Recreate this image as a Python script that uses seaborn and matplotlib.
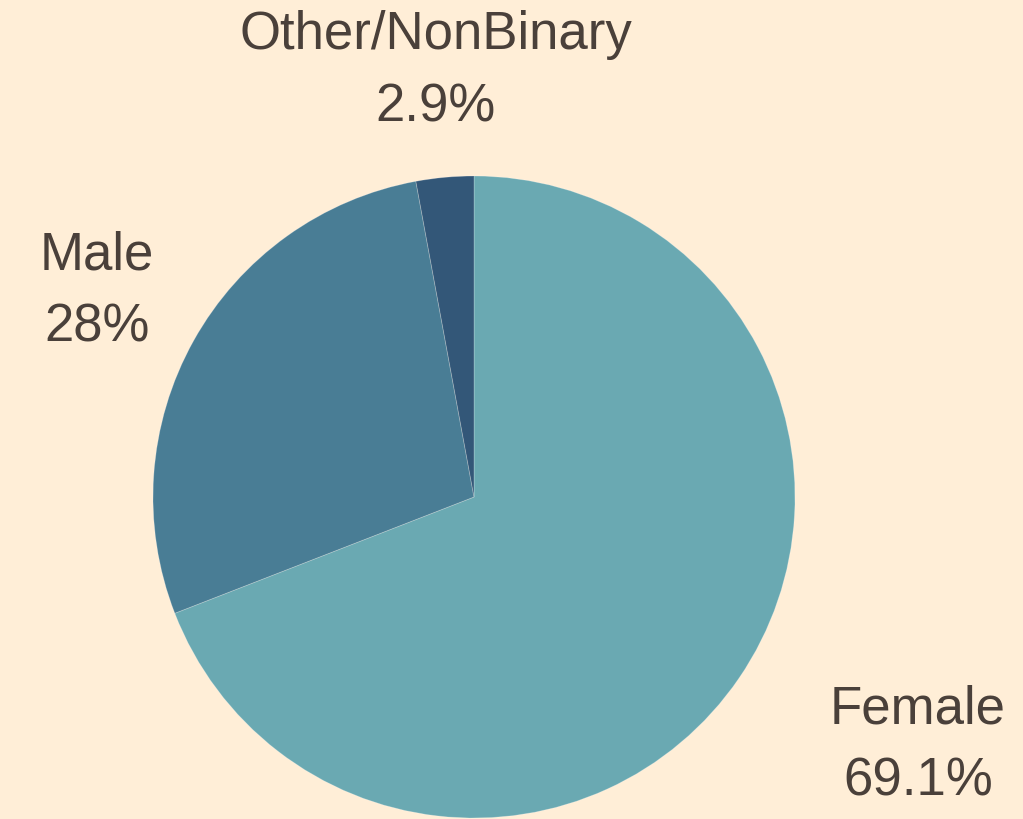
import matplotlib
matplotlib.use("Agg")
import matplotlib.pyplot as plt
import seaborn as sns

# data
labels = ["Female", "Male", "Other/NonBinary"]
shares = [69.1, 28.0, 2.9]
pct_text = ["69.1%", "28%", "2.9%"]
colors = ["#6aa9b2", "#497d95", "#335778"]

bg = "#ffeed7"
txt = "#4a403a"

sns.set_theme(style="white")
plt.rcParams["font.family"] = ["Liberation Sans", "DejaVu Sans"]

fig = plt.figure(figsize=(10.23, 8.19), dpi=100, facecolor=bg)
ax = fig.add_axes([0, 0, 1, 1])
ax.set_facecolor(bg)

# pie in pixel-like coordinates
ax.pie(shares, colors=sns.color_palette(colors), startangle=90, counterclock=False,
       center=(474, 322), radius=321,
       wedgeprops=dict(linewidth=0.6, edgecolor="#ffffff40"))
ax.set_xlim(0, 1023)
ax.set_ylim(0, 819)
ax.set_aspect("equal")
ax.axis("off")

# label anchor points
label_pos = [(918, 110), (97, 564), (436, 784)]
for lab, pct, (x, y) in zip(labels, pct_text, label_pos):
    ax.text(x, y, lab, ha="center", va="center", fontsize=38, color=txt)
    ax.text(x, y - 72, pct, ha="center", va="center", fontsize=38, color=txt)

fig.savefig("out.png", dpi=100, facecolor=bg)
